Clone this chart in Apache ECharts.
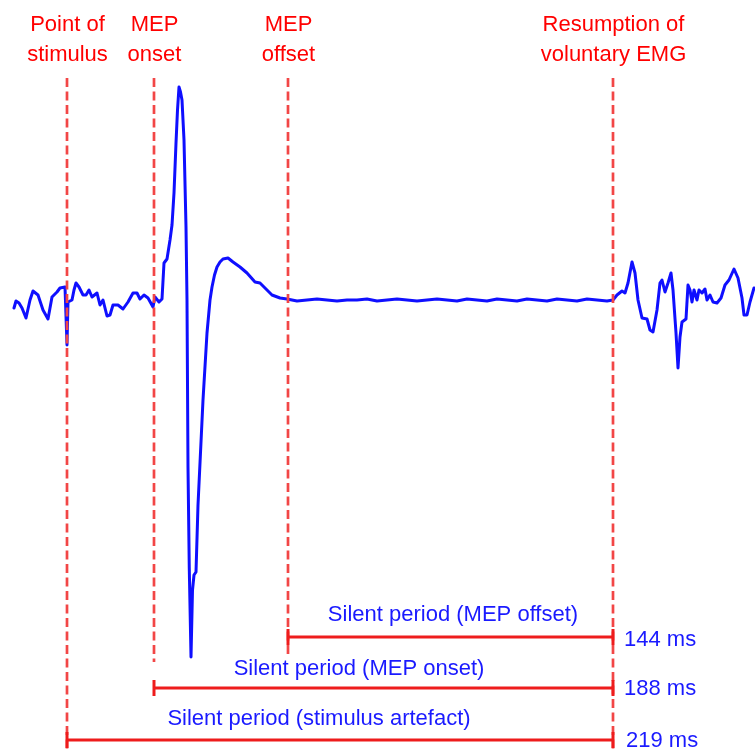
<!DOCTYPE html>
<html>
<head>
<meta charset="utf-8">
<script src="https://cdn.jsdelivr.net/npm/echarts@6/dist/echarts.min.js"></script>
<style>
html,body{margin:0;padding:0;background:#fff;}
#chart{width:755px;height:751px;}
</style>
</head>
<body>
<div id="chart"></div>
<script>
// EMG trace: time (ms, relative to stimulus) and amplitude (mV)
const traceTime = [
  -21.2,-20.4,-19.2,-18.0,-16.4,-14.8,-13.6,-11.6,-9.6,-7.6,-6.0,-4.0,-2.8,-0.8,0.0,0.0,0.4,2.0,2.8,3.6,4.8,6.4,7.6,8.8,10.0,
  12.0,13.2,14.4,16.0,17.2,18.4,20.4,22.4,24.4,26.4,28.0,29.2,30.8,32.4,34.4,35.2,36.8,38.0,38.8,40.0,40.4,41.2,42.0,42.8,
  43.6,44.2,44.8,45.4,46.0,46.8,47.6,48.0,48.4,48.9,49.6,50.2,50.8,51.6,52.4,54.4,56.0,57.2,58.0,59.0,60.0,61.2,62.4,64.4,66.4,69.2,
  72.0,75.2,77.2,79.2,82.0,85.2,88.0,
  92,96,100,104,108,112,116,120,124,128,132,136,140,144,148,152,156,160,164,168,172,176,180,184,188,192,196,200,204,208,212,216,
  218.4,220.0,222.0,223.2,224.4,226.0,227.2,228.4,230.0,230.4,232.0,233.2,234.4,236.0,237.2,238.0,239.2,240.4,241.6,242.4,
  243.6,244.4,245.2,246.0,247.6,248.4,249.2,250.0,250.8,252.0,252.8,254.0,255.2,256.0,257.2,258.4,260.0,261.6,263.2,264.8,
  266.8,268.4,270.0,270.8,272.0,273.2,274.8
];
const traceAmp = [
  -0.08,-0.01,-0.03,-0.08,-0.18,0.00,0.09,0.05,-0.10,-0.19,0.03,0.08,0.12,0.13,0.12,-0.45,-0.02,0.00,0.10,0.17,0.13,0.05,0.05,0.10,0.03,
  0.07,-0.05,0.00,-0.16,-0.15,-0.05,-0.05,-0.09,-0.02,0.07,0.07,0.01,0.05,0.02,-0.07,0.03,-0.02,0.01,0.37,0.41,0.43,0.60,0.75,1.07,
  1.57,1.90,2.13,2.08,2.00,1.60,0.73,0.00,-1.67,-2.67,-3.57,-2.90,-2.75,-2.72,-2.05,-1.00,-0.33,0.00,0.13,0.25,0.33,0.38,0.41,0.42,0.38,0.33,
  0.27,0.18,0.17,0.12,0.05,0.02,0.01,
  -0.01,0.00,0.01,0.00,-0.01,0.00,0.00,0.01,-0.01,0.00,0.01,0.00,-0.01,0.00,0.01,0.00,-0.01,0.01,0.00,-0.01,0.01,0.00,-0.01,0.01,0.00,-0.01,0.01,0.00,-0.01,0.01,0.00,-0.01,
  0.00,0.05,0.09,0.07,0.17,0.38,0.27,0.00,-0.18,-0.20,-0.19,-0.30,-0.32,-0.10,0.17,0.20,0.08,0.17,0.27,0.10,
  -0.33,-0.68,-0.37,-0.22,-0.19,0.15,0.10,-0.02,0.10,0.00,0.10,0.07,0.11,0.00,0.05,-0.02,-0.03,0.02,0.15,0.20,
  0.31,0.22,0.02,-0.15,-0.15,-0.02,0.12
];

// Event markers (ms)
const eventNames = ['Point of\nstimulus', 'MEP\nonset', 'MEP\noffset', 'Resumption of\nvoluntary EMG'];
const eventTimes = [0, 34.8, 88.4, 218.4];

// Silent periods
const periodNames = ['Silent period (MEP offset)', 'Silent period (MEP onset)', 'Silent period (stimulus artefact)'];
const periodValues = [144, 188, 219];
const periodStartEvent = [2, 1, 0];
const periodEndEvent = 3;

// ---- layout / styling ----
const guideTop = 2.22;
const guideBottoms = [-4.6, -3.62, -3.57, -4.6];
const barLevels = [-3.37, -3.88, -4.40];
const capHalf = 0.08;
const RED_GUIDE = '#f24646';
const RED_BAR = '#ee1c1c';
const BLUE = '#0f0fff';
const TEXT_BLUE = '#1a1aff';
const FONT = '"Liberation Sans", Arial, sans-serif';

const chart = echarts.init(document.getElementById('chart'), null, {renderer: 'canvas'});

const series = [{
  type: 'line',
  data: traceTime.map((t, i) => [t, traceAmp[i]]),
  showSymbol: false,
  symbol: 'none',
  lineStyle: {color: BLUE, width: 3, join: 'round', cap: 'round'},
  z: 2,
  animation: false
}];

eventTimes.forEach((t, i) => {
  series.push({
    type: 'line',
    data: [[t, guideTop], [t, guideBottoms[i]]],
    symbol: 'none',
    lineStyle: {color: RED_GUIDE, width: 2.7, type: [9, 4.5]},
    z: 5,
    animation: false
  });
});

periodValues.forEach((v, k) => {
  const x0 = eventTimes[periodStartEvent[k]];
  const x1 = eventTimes[periodEndEvent];
  const y = barLevels[k];
  [[[x0, y], [x1, y]], [[x0, y - capHalf], [x0, y + capHalf]], [[x1, y - capHalf], [x1, y + capHalf]]].forEach(seg => {
    series.push({
      type: 'line',
      data: seg,
      symbol: 'none',
      lineStyle: {color: RED_BAR, width: 3},
      z: 6,
      animation: false
    });
  });
});

chart.setOption({
  animation: false,
  grid: {left: 0, right: 0, top: 0, bottom: 0},
  xAxis: {type: 'value', min: -26.8, max: 275.2, show: false},
  yAxis: {type: 'value', min: -4.51, max: 3.0, show: false},
  series: series
});

// text annotations
const graphics = [];
eventNames.forEach((name, i) => {
  const px = chart.convertToPixel({xAxisIndex: 0}, eventTimes[i]);
  const lines = name.split('\n');
  [24.5, 55].forEach((y, j) => {
    graphics.push({
      type: 'text', x: px + 0.5, y: y,
      style: {text: lines[j], fill: '#ff0000', font: '22px ' + FONT, textAlign: 'center', textVerticalAlign: 'middle'},
      z: 10
    });
  });
});
const periodTextX = [453, 359, 319];
const periodTextY = [615, 669, 719];
const valueTextX = [624, 624, 626];
const valueTextY = [640, 689, 741];
periodNames.forEach((name, k) => {
  graphics.push({
    type: 'text', x: periodTextX[k], y: periodTextY[k],
    style: {text: name, fill: TEXT_BLUE, font: '22px ' + FONT, textAlign: 'center', textVerticalAlign: 'middle'},
    z: 10
  });
  graphics.push({
    type: 'text', x: valueTextX[k], y: valueTextY[k],
    style: {text: periodValues[k] + ' ms', fill: TEXT_BLUE, font: '22px ' + FONT, textAlign: 'left', textVerticalAlign: 'middle'},
    z: 10
  });
});
chart.setOption({graphic: graphics});
</script>
</body>
</html>
